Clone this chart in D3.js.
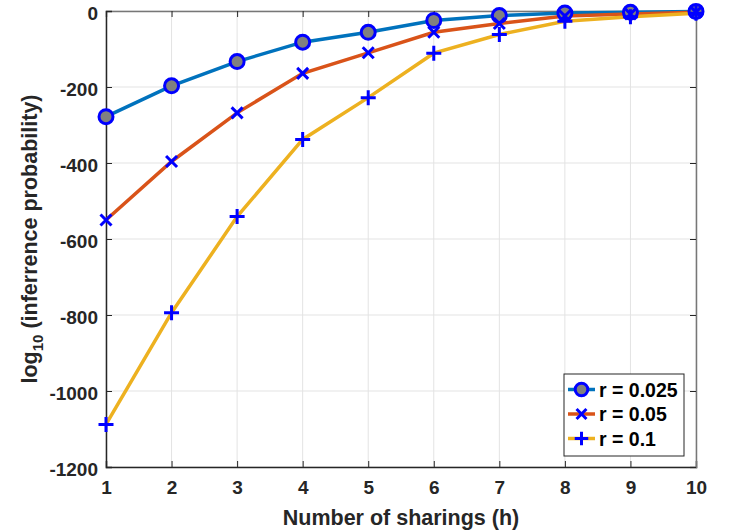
<!DOCTYPE html>
<html><head><meta charset="utf-8">
<script src="https://cdn.jsdelivr.net/npm/d3@7"></script>
<style>body{margin:0;background:#fff}svg{display:block}text{font-family:"Liberation Sans",Arial,sans-serif;font-weight:bold}</style>
</head><body>
<script>
const hValues = [1,2,3,4,5,6,7,8,9,10];
const r0025 = [-278,-197,-133,-82,-56,-25,-12,-5,-3,-1];
const r005  = [-550,-396,-268,-164,-110,-56,-33,-13,-8,-3];
const r01   = [-1088,-794,-541,-338,-228,-111,-62,-27,-15,-6];
const seriesNames = ["r = 0.025","r = 0.05","r = 0.1"];
const seriesColors = ["#0072BD","#D95319","#EDB120"];
const seriesMarkers = ["circle","x","plus"];
const xTicks = [1,2,3,4,5,6,7,8,9,10];
const yTicks = [0,-200,-400,-600,-800,-1000,-1200];

const W=732,H=531;
const m={l:106,r:36,t:11,b:64};
const svg=d3.select("body").append("svg").attr("width",W).attr("height",H);
const x=d3.scaleLinear().domain([1,10]).range([m.l,W-m.r]);
const y=d3.scaleLinear().domain([-1200,0]).range([H-m.b,m.t]);
const x0=x.range()[0],x1=x.range()[1],y0=y.range()[0],y1=y.range()[1];
const fmt=d=>String(d);

// grid
svg.append("g").selectAll("line").data(xTicks).join("line")
 .attr("x1",d=>x(d)).attr("x2",d=>x(d)).attr("y1",y1).attr("y2",y0)
 .attr("stroke","#e3e3e3").attr("stroke-width",1);
svg.append("g").selectAll("line").data(yTicks).join("line")
 .attr("x1",x0).attr("x2",x1).attr("y1",d=>y(d)).attr("y2",d=>y(d))
 .attr("stroke","#e3e3e3").attr("stroke-width",1);

// axes
const xa=svg.append("g").attr("transform",`translate(0,${y0})`)
 .call(d3.axisBottom(x).tickValues(xTicks).tickSize(-6).tickPadding(14).tickFormat(fmt));
const xaT=svg.append("g").attr("transform",`translate(0,${y1})`)
 .call(d3.axisTop(x).tickValues(xTicks).tickSize(-6).tickFormat(""));
const ya=svg.append("g").attr("transform",`translate(${x0},0)`)
 .call(d3.axisLeft(y).tickValues(yTicks).tickSize(-6).tickPadding(8).tickFormat(fmt));
const yaR=svg.append("g").attr("transform",`translate(${x1},0)`)
 .call(d3.axisRight(y).tickValues(yTicks).tickSize(-6).tickFormat(""));
[xa,ya].forEach(g=>{g.select(".domain").attr("stroke","#262626").attr("stroke-width",1.5);
 g.selectAll(".tick line").attr("stroke","#262626");
 g.selectAll("text").attr("font-size",19).attr("fill","#262626").attr("font-family","Liberation Sans, Arial").attr("font-weight","bold");});
[xaT,yaR].forEach(g=>{g.select(".domain").attr("stroke","#777").attr("stroke-width",1.5);
 g.selectAll(".tick line").attr("stroke","#262626");});
ya.selectAll("text").attr("dy","0.45em");
xa.selectAll("text").attr("dy","0.7em");

const data=[r0025,r005,r01];
const line=d3.line().x((d,i)=>x(hValues[i])).y(d=>y(d));

function marker(g,type,cx,cy,s){
  if(type==="circle"){
    g.append("circle").attr("cx",cx).attr("cy",cy).attr("r",7*s)
     .attr("fill","#808080").attr("stroke","#0000FF").attr("stroke-width",3);
  } else if(type==="x"){
    const a=5.5*s;
    g.append("path").attr("d",`M${cx-a},${cy-a}L${cx+a},${cy+a}M${cx-a},${cy+a}L${cx+a},${cy-a}`)
     .attr("stroke","#0000FF").attr("stroke-width",3).attr("fill","none");
  } else {
    const a=7.5*s;
    g.append("path").attr("d",`M${cx-a},${cy}L${cx+a},${cy}M${cx},${cy-a}L${cx},${cy+a}`)
     .attr("stroke","#0000FF").attr("stroke-width",3).attr("fill","none");
  }
}

data.forEach((vals,k)=>{
  svg.append("path").datum(vals).attr("d",line).attr("fill","none")
   .attr("stroke",seriesColors[k]).attr("stroke-width",3.5);
});
data.forEach((vals,k)=>{
  const g=svg.append("g");
  vals.forEach((v,i)=>marker(g,seriesMarkers[k],x(hValues[i]),y(v),1));
});

// legend
const lg=svg.append("g");
const lx=564,ly=374,lw=120,lh=82;
lg.append("rect").attr("x",lx).attr("y",ly).attr("width",lw).attr("height",lh)
 .attr("fill","#fff").attr("stroke","#262626").attr("stroke-width",1);
seriesNames.forEach((n,k)=>{
  const yy=ly+15.5+k*24.5;
  lg.append("line").attr("x1",lx+4).attr("x2",lx+31).attr("y1",yy).attr("y2",yy)
   .attr("stroke",seriesColors[k]).attr("stroke-width",3.5);
  marker(lg,seriesMarkers[k],lx+17.5,yy,0.9);
  lg.append("text").attr("x",lx+35).attr("y",yy).attr("dy","0.36em")
   .attr("font-size",19.5).attr("fill","#000").text(n);
});

// labels
svg.append("text").attr("x",(x0+x1)/2).attr("y",525).attr("text-anchor","middle")
 .attr("font-size",21.5).attr("fill","#262626").text("Number of sharings (h)");
const yl=svg.append("text").attr("transform",`translate(37,${(y0+y1)/2}) rotate(-90)`)
 .attr("text-anchor","middle").attr("font-size",21.5).attr("fill","#262626");
yl.append("tspan").text("log");
yl.append("tspan").attr("font-size",15).attr("dy",6).text("10");
yl.append("tspan").attr("dy",-6).text(" (inferrence probability)");
</script>
</body></html>
